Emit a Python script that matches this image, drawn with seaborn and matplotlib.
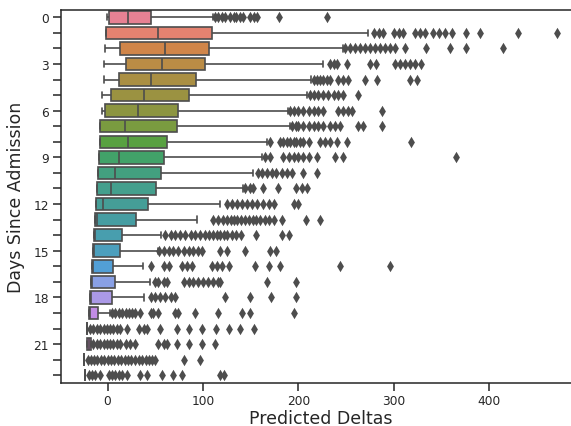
import numpy as np
import pandas as pd
import matplotlib
matplotlib.use("Agg")
import matplotlib.pyplot as plt
import seaborn as sns

days = list(range(24))
lo_whisker = [-0.6, -1.4, -2.4, -3.5, -4.2, -5.5, -6.3, -7.6, -8.3, -9.4, -10.5, -11.1,
              -12.5, -13.6, -14.3, -15.3, -16.3, -17.4, -18.4, -19.5, -22.0, -22.0, -24.4, -23.4]
q1 = [1.0, -1.4, 12.6, 18.9, 11.9, 3.9, -3.1, -7.6, -8.3, -9.4, -10.5, -11.1,
      -12.5, -13.6, -14.3, -15.3, -16.3, -17.4, -18.4, -19.5, -22.0, -22.0, -24.4, -23.4]
median = [21.0, 52.4, 60.7, 56.9, 45.0, 38.1, 32.1, 18.2, 21.3, 12.3, 8.1, 3.9,
          -4.5, -10.8, -13.0, -14.0, -15.0, -16.0, -17.0, -18.0, -22.0, -20.0, -24.4, -23.4]
q3 = [45.0, 109.3, 106.5, 102.6, 92.5, 85.2, 74.3, 72.3, 62.2, 59.4, 55.9, 50.7,
      42.3, 30.0, 15.1, 13.3, 5.6, 7.7, 4.6, -10.5, -22.0, -17.1, -24.4, -23.4]
hi_whisker = [110.0, 273.0, 246.5, 225.5, 213.0, 208.8, 189.6, 191.3, 166.9, 161.7, 152.5, 142.4,
              118.0, 93.6, 56.0, 53.0, 37.0, 44.7, 38.4, 2.8, -22.0, -17.1, -24.4, -23.4]
outliers = [
    [113, 116, 120, 123, 128, 132, 135, 139, 142, 149, 153, 157, 180, 230],
    [279, 284, 289, 300, 305, 310, 322, 327, 333, 341, 347, 354, 361, 376, 390, 430, 471],
    [249, 254, 259, 265, 270, 275, 280, 286, 291, 296, 301, 312, 334, 359, 376, 415],
    [233, 237, 240, 251, 275, 281, 301, 307, 312, 317, 322, 329],
    [216, 219, 223, 226, 230, 233, 242, 247, 252, 270, 282, 317, 324],
    [212, 216, 221, 226, 231, 237, 242, 247, 263],
    [191, 195, 200, 205, 211, 216, 221, 226, 242, 247, 252, 256, 288],
    [193, 197, 200, 205, 211, 216, 221, 226, 233, 238, 244, 263, 268, 288],
    [170, 181, 184, 188, 191, 195, 198, 202, 205, 211, 223, 228, 233, 240, 251, 318],
    [165, 170, 184, 190, 195, 200, 205, 211, 219, 238, 247, 365],
    [158, 162, 167, 172, 177, 183, 188, 193, 205, 219],
    [144, 149, 152, 163, 179, 198, 204, 209],
    [125, 130, 136, 141, 146, 151, 157, 163, 169, 174, 195, 200],
    [111, 116, 121, 125, 129, 132, 136, 140, 144, 148, 152, 156, 160, 165, 169, 174, 183, 208, 223],
    [60, 66, 71, 76, 81, 87, 92, 97, 102, 106, 110, 115, 118, 122, 125, 130, 135, 140, 156, 183, 190],
    [54, 59, 64, 69, 74, 80, 85, 90, 95, 99, 118, 125, 144, 170, 177],
    [45, 59, 64, 78, 83, 88, 109, 115, 120, 127, 155, 169, 181, 244, 296],
    [50, 53, 59, 62, 80, 85, 90, 95, 100, 105, 110, 116, 118, 167, 197],
    [45, 50, 55, 60, 66, 71, 123, 149, 171, 198],
    [5, 8, 12, 15, 19, 22, 26, 29, 34, 45, 48, 53, 71, 74, 92, 116, 141, 149, 195],
    [-18, -15, -11, -8, -4, -1, 3, 6, 10, 13, 20, 33, 38, 41, 55, 73, 85, 99, 114, 127, 139, 153],
    [-15, -11, -8, -4, -1, 3, 6, 10, 13, 19, 24, 29, 53, 59, 62, 73, 85, 99, 113],
    [-21, -17, -14, -11, -7, -4, 0, 4, 7, 11, 14, 18, 21, 25, 29, 33, 36, 40, 43, 47, 50, 80, 97],
    [-20, -16, -13, -8, 1, 5, 8, 12, 15, 20, 34, 41, 57, 69, 78, 118, 122],
]
x_ticks = [0, 100, 200, 300, 400]

sns.set_theme(style="ticks")
plt.rcParams["font.family"] = ["DejaVu Sans"]

labels = [str(d) for d in days]
core = pd.DataFrame({
    "day": np.repeat(labels, 5),
    "delta": np.column_stack([lo_whisker, q1, median, q3, hi_whisker]).ravel(),
})
out = pd.DataFrame({
    "day": [labels[i] for i, o in enumerate(outliers) for _ in o],
    "delta": [v for o in outliers for v in o],
})

line_col = "#4d4d4d"
fig = plt.figure(figsize=(5.71, 4.27), dpi=100)
ax = fig.add_axes([0.1074, 0.1007, 0.908, 0.8747])
sns.boxplot(data=core, x="delta", y="day", hue="day", order=labels, hue_order=labels,
            palette=sns.color_palette("husl", len(labels)), legend=False,
            whis=(0, 100), showfliers=False, linecolor=line_col, linewidth=1.2,
            width=0.8, saturation=0.75, orient="h", ax=ax)
sns.stripplot(data=out, x="delta", y="day", order=labels, color=line_col, marker="d",
              size=5.8, jitter=False, linewidth=0, orient="h", ax=ax)

ax.set_xlim(-48.5, 495)
ax.set_ylim(len(labels) - 0.5, -0.5)
ax.set_xticks(x_ticks)
ax.set_xticklabels([str(t) for t in x_ticks])
ax.set_yticks(range(len(labels)))
ax.set_yticklabels([l if int(l) % 3 == 0 else "" for l in labels])
ax.tick_params(labelsize=8.8, length=5.5, width=1.1, colors="#262626")
ax.tick_params(axis="x", pad=2.5)
for s in ax.spines.values():
    s.set_linewidth(1.1)
ax.set_xlabel("Predicted Deltas", fontsize=12.5, color="#262626", labelpad=1.5)
ax.set_ylabel("Days Since Admission", fontsize=12.5, color="#262626", labelpad=6)

fig.savefig("out.png", dpi=100)
